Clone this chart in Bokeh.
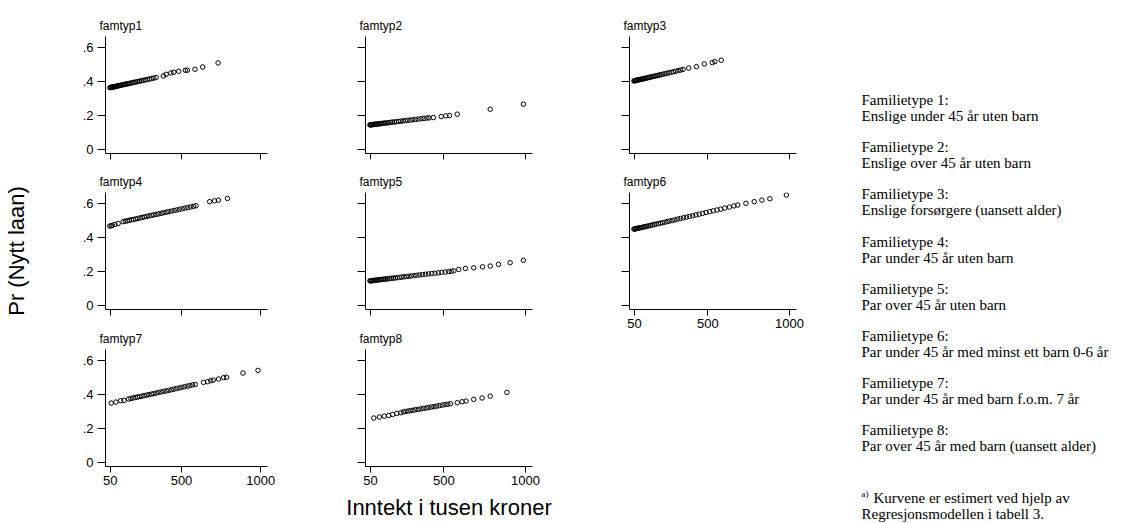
from bokeh.plotting import figure
from bokeh.layouts import row, column
from bokeh.models import Range1d, FixedTicker, CustomJSTickFormatter
from bokeh.core.properties import value
from bokeh.embed import file_html
from bokeh.resources import INLINE

# ---------------- data ----------------
titles = ["famtyp1", "famtyp2", "famtyp3", "famtyp4", "famtyp5", "famtyp6", "famtyp7", "famtyp8"]
x_ticks = [50, 500, 1000]
y_ticks = [0, 0.2, 0.4, 0.6]
x_label = "Inntekt i tusen kroner"
y_label = "Pr (Nytt laan)"

x1 = [48, 52, 56, 60, 64, 68, 72, 77, 82, 87, 92, 98, 104, 110, 117, 124, 131, 139, 147, 155, 164, 173, 182, 192,
      202, 212, 223, 234, 246, 258, 270, 283, 296, 310, 325, 340, 385, 403, 433, 451, 482, 524, 537, 585, 634, 731]
y1 = [0.362, 0.363, 0.364, 0.365, 0.366, 0.366, 0.367, 0.368, 0.369, 0.370, 0.371, 0.373, 0.374, 0.375, 0.377,
      0.378, 0.380, 0.381, 0.383, 0.384, 0.386, 0.388, 0.390, 0.392, 0.394, 0.396, 0.398, 0.400, 0.403, 0.405,
      0.408, 0.410, 0.413, 0.416, 0.419, 0.422, 0.431, 0.441, 0.449, 0.453, 0.459, 0.465, 0.465, 0.471, 0.484, 0.508]

x2 = [47, 51, 55, 59, 63, 68, 73, 78, 84, 90, 96, 103, 110, 118, 126, 135, 144, 154, 164, 175, 186, 198, 210, 223,
      236, 250, 264, 279, 294, 310, 326, 343, 360, 378, 396, 409, 436, 484, 512, 535, 582, 784, 987]
y2 = [0.143, 0.143, 0.144, 0.144, 0.145, 0.145, 0.146, 0.146, 0.147, 0.148, 0.148, 0.149, 0.150, 0.151, 0.152,
      0.153, 0.154, 0.155, 0.156, 0.158, 0.159, 0.160, 0.162, 0.163, 0.165, 0.166, 0.168, 0.170, 0.171, 0.173,
      0.175, 0.177, 0.179, 0.181, 0.183, 0.184, 0.186, 0.192, 0.196, 0.198, 0.206, 0.235, 0.265]

x3 = [47, 51, 55, 59, 63, 67, 72, 77, 82, 88, 94, 100, 107, 114, 121, 129, 137, 145, 154, 163, 172, 182, 192, 203,
      214, 225, 237, 249, 262, 275, 289, 303, 318, 333, 348, 383, 430, 478, 527, 543, 582]
y3 = [0.402, 0.403, 0.404, 0.405, 0.406, 0.406, 0.408, 0.409, 0.410, 0.411, 0.412, 0.414, 0.415, 0.417, 0.418,
      0.420, 0.422, 0.424, 0.426, 0.428, 0.430, 0.432, 0.434, 0.437, 0.439, 0.442, 0.444, 0.447, 0.450, 0.453,
      0.456, 0.459, 0.463, 0.466, 0.470, 0.478, 0.486, 0.502, 0.510, 0.516, 0.524]

x4 = [47, 56, 63, 80, 100, 131, 145, 158, 170, 183, 196, 210, 224, 238, 252, 266, 280, 295, 310, 325, 340, 356,
      372, 388, 404, 420, 437, 454, 471, 488, 505, 522, 540, 558, 576, 591, 678, 709, 733, 790]
y4 = [0.466, 0.468, 0.470, 0.476, 0.481, 0.492, 0.495, 0.497, 0.500, 0.503, 0.505, 0.508, 0.511, 0.514, 0.517,
      0.520, 0.523, 0.526, 0.529, 0.532, 0.535, 0.538, 0.541, 0.545, 0.548, 0.551, 0.554, 0.558, 0.561, 0.565,
      0.568, 0.572, 0.575, 0.579, 0.582, 0.586, 0.610, 0.615, 0.619, 0.629]

x5 = [47, 52, 57, 62, 68, 74, 80, 87, 94, 102, 110, 118, 127, 136, 146, 156, 167, 178, 190, 202, 215, 228, 242,
      256, 271, 286, 302, 318, 335, 352, 370, 388, 407, 426, 446, 466, 487, 508, 530, 545, 561, 591, 632, 683,
      737, 784, 835, 906, 987]
y5 = [0.143, 0.143, 0.144, 0.144, 0.145, 0.146, 0.146, 0.147, 0.148, 0.149, 0.150, 0.151, 0.152, 0.153, 0.154,
      0.155, 0.156, 0.158, 0.159, 0.160, 0.162, 0.163, 0.165, 0.167, 0.168, 0.170, 0.172, 0.174, 0.176, 0.178,
      0.180, 0.182, 0.184, 0.186, 0.188, 0.190, 0.193, 0.195, 0.198, 0.200, 0.202, 0.210, 0.216, 0.220, 0.226,
      0.230, 0.240, 0.250, 0.264]

x6 = [47, 52, 57, 63, 69, 76, 83, 91, 99, 108, 117, 127, 137, 148, 159, 171, 183, 196, 209, 223, 237, 252, 267,
      283, 299, 316, 333, 351, 369, 388, 407, 427, 447, 468, 489, 511, 533, 556, 579, 603, 632, 660, 683, 733,
      784, 831, 880, 981]
y6 = [0.448, 0.449, 0.450, 0.451, 0.453, 0.454, 0.456, 0.457, 0.459, 0.461, 0.463, 0.465, 0.467, 0.470, 0.472,
      0.475, 0.478, 0.480, 0.483, 0.486, 0.489, 0.493, 0.496, 0.499, 0.503, 0.507, 0.511, 0.515, 0.519, 0.523,
      0.527, 0.532, 0.536, 0.541, 0.546, 0.551, 0.556, 0.561, 0.566, 0.572, 0.578, 0.585, 0.590, 0.600, 0.610,
      0.619, 0.627, 0.649]

x7 = [56, 86, 115, 137, 166, 180, 194, 208, 222, 236, 250, 265, 280, 295, 310, 325, 340, 356, 372, 388, 404, 420,
      436, 452, 468, 485, 502, 519, 536, 553, 570, 587, 639, 665, 685, 701, 734, 766, 784, 888, 983]
y7 = [0.348, 0.354, 0.362, 0.364, 0.372, 0.375, 0.378, 0.381, 0.384, 0.386, 0.389, 0.392, 0.395, 0.398, 0.401,
      0.404, 0.407, 0.411, 0.414, 0.417, 0.420, 0.423, 0.427, 0.430, 0.434, 0.437, 0.441, 0.444, 0.448, 0.451,
      0.455, 0.458, 0.470, 0.474, 0.480, 0.484, 0.490, 0.498, 0.500, 0.525, 0.541]

x8 = [71, 105, 135, 162, 186, 212, 236, 252, 267, 282, 297, 312, 328, 344, 360, 376, 392, 408, 424, 440, 456, 472,
      490, 507, 524, 540, 582, 612, 636, 683, 734, 784, 886]
y8 = [0.260, 0.266, 0.271, 0.275, 0.281, 0.287, 0.291, 0.296, 0.299, 0.301, 0.304, 0.306, 0.309, 0.311, 0.314,
      0.317, 0.319, 0.322, 0.325, 0.327, 0.330, 0.333, 0.336, 0.339, 0.341, 0.344, 0.350, 0.356, 0.360, 0.370,
      0.378, 0.389, 0.411]

legend_heads = ["Familietype 1:", "Familietype 2:", "Familietype 3:", "Familietype 4:",
                "Familietype 5:", "Familietype 6:", "Familietype 7:", "Familietype 8:"]
legend_descs = ["Enslige under 45 år uten barn",
                "Enslige over 45 år uten barn",
                "Enslige forsørgere (uansett alder)",
                "Par under 45 år uten barn",
                "Par over 45 år uten barn",
                "Par under 45 år med minst ett barn 0-6 år",
                "Par under 45 år med barn f.o.m. 7 år",
                "Par over 45 år med barn (uansett alder)"]
note_mark = "a)"
note_lines = ["Kurvene er estimert ved hjelp av", "Regresjonsmodellen i tabell 3."]

# ---------------- styling ----------------
SANS = "Liberation Sans"
SERIF = "Liberation Serif"
FRAME_W = 167
FRAME_H = 117


def panel(title, xs, ys, left, right, top, bottom, show_x, show_y, xlab=None, ylab=None):
    p = figure(width=left + FRAME_W + right, height=top + FRAME_H + bottom,
               output_backend="svg", toolbar_location=None,
               x_range=Range1d(20, 1043), y_range=Range1d(-0.026, 0.664),
               min_border_left=left, min_border_right=right,
               min_border_top=top, min_border_bottom=bottom, title=title)
    p.title.text_font = SANS
    p.title.text_font_size = "12px"
    p.title.text_font_style = "normal"
    p.title.align = "left"
    p.title.offset = -6
    p.title.standoff = 8
    p.title.text_color = "black"
    p.outline_line_color = None
    p.grid.visible = False
    p.background_fill_color = "white"
    p.border_fill_color = "white"

    xa = p.xaxis[0]
    xa.ticker = FixedTicker(ticks=x_ticks)
    xa.minor_tick_line_color = None
    xa.major_tick_in = 0
    xa.major_tick_out = 6
    xa.axis_line_color = "black"
    xa.major_tick_line_color = "black"
    xa.major_label_text_font = SANS
    xa.major_label_text_font_size = "13px"
    xa.major_label_standoff = 3
    xa.major_label_text_color = "black" if show_x else None
    if xlab:
        xa.axis_label = xlab
        xa.axis_label_text_font = SANS
        xa.axis_label_text_font_size = "22px"
        xa.axis_label_text_font_style = "normal"
        xa.axis_label_text_color = "black"
        xa.axis_label_standoff = 7

    ya = p.yaxis[0]
    ya.ticker = FixedTicker(ticks=y_ticks)
    ya.formatter = CustomJSTickFormatter(
        code="return tick == 0 ? '0' : tick.toFixed(1).replace(/^0/, '');")
    ya.minor_tick_line_color = None
    ya.major_tick_in = 0
    ya.major_tick_out = 8
    ya.axis_line_color = "black"
    ya.major_tick_line_color = "black"
    ya.major_label_text_font = SANS
    ya.major_label_text_font_size = "13px"
    ya.major_label_standoff = 4
    ya.major_label_text_color = "black" if show_y else None
    if ylab:
        ya.axis_label = ylab
        ya.axis_label_text_font = SANS
        ya.axis_label_text_font_size = "22px"
        ya.axis_label_text_font_style = "normal"
        ya.axis_label_text_color = "black"
        ya.axis_label_standoff = 51

    p.scatter(xs, ys, marker="circle", size=4.5, fill_color=None,
              line_color="black", line_width=1.0)
    return p


# column 1: frames at x 100..267 ; column 2: 365..532 ; column 3: 629..796
f1 = panel(titles[0], x1, y1, 100, 68, 36, 11, False, True)
f2 = panel(titles[1], x2, y2, 30, 87, 36, 11, False, False)
f3 = panel(titles[2], x3, y3, 10, 10, 36, 11, False, False)
f4 = panel(titles[3], x4, y4, 100, 68, 28, 11, False, True, ylab=y_label)
f5 = panel(titles[4], x5, y5, 30, 87, 28, 11, False, False)
f6 = panel(titles[5], x6, y6, 10, 10, 28, 30, True, False)
f7 = panel(titles[6], x7, y7, 100, 68, 29, 57, True, True)
f8 = panel(titles[7], x8, y8, 30, 87, 29, 57, True, False, xlab=x_label)

# ---------------- legend text block ----------------
TW, TH = 318, 523
t = figure(width=TW, height=TH, output_backend="svg", toolbar_location=None,
           x_range=Range1d(0, TW), y_range=Range1d(TH, 0),
           x_axis_location=None, y_axis_location=None,
           min_border=0)
t.outline_line_color = None
t.grid.visible = False

tx0 = 55
head_y = [99.5 + 47.2 * i for i in range(len(legend_heads))]
desc_y = [v + 16 for v in head_y]
common = dict(text_font=value(SERIF), text_font_size="15px", text_color="black",
              text_baseline="middle", text_align="left")
t.text(x=[tx0] * len(legend_heads), y=head_y, text=legend_heads, **common)
t.text(x=[tx0] * len(legend_descs), y=desc_y, text=legend_descs, **common)
t.text(x=[tx0], y=[493], text=[note_mark], text_font=value(SERIF), text_font_size="9px",
       text_color="black", text_baseline="middle", text_align="left")
t.text(x=[tx0 + 12, tx0], y=[497, 513], text=note_lines, **common)

layout = row(column(f1, f4, f7), column(f2, f5, f8), column(f3, f6), t)

open("out.html", "w").write(file_html(layout, INLINE))
